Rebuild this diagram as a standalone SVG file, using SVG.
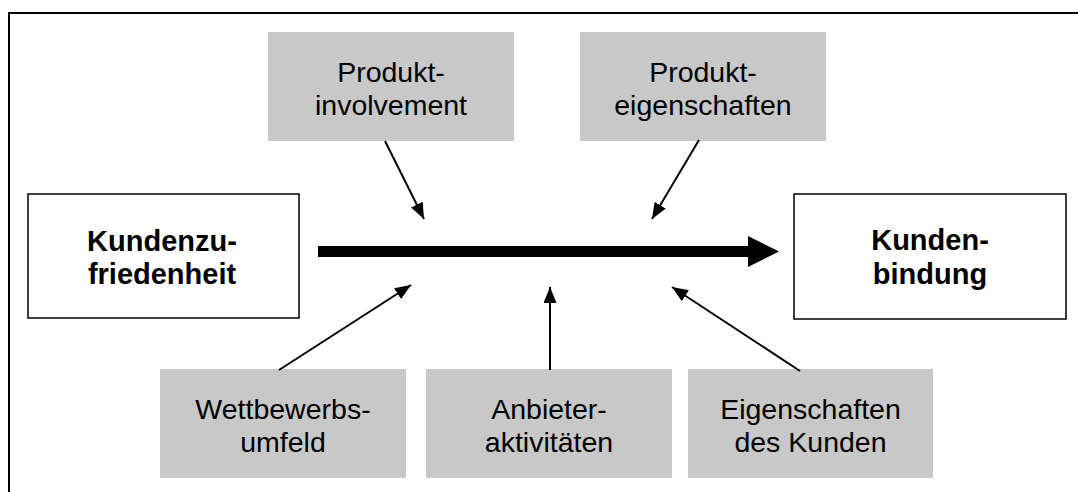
<svg xmlns="http://www.w3.org/2000/svg" width="1078" height="492" viewBox="0 0 1078 492">
  <defs>
    <style>
      .frame { fill: none; stroke: #000; stroke-width: 2; }
      .white { fill: #fff; stroke: #000; stroke-width: 1.5; }
      .gray { fill: #c8c8c8; stroke: none; }
      .t { font-family: "Liberation Sans", Arial, sans-serif; font-size: 28.5px; fill: #000; text-anchor: middle; }
      .b { font-family: "Liberation Sans", Arial, sans-serif; font-size: 29px; font-weight: bold; fill: #000; text-anchor: middle; }
      .conn { stroke: #000; stroke-width: 2; fill: none; marker-end: url(#ah); }
    </style>
    <marker id="ah" markerUnits="userSpaceOnUse" markerWidth="17" markerHeight="13" refX="16" refY="6.5" orient="auto">
      <path d="M0,0 L16,6.5 L0,13 z" fill="#000"/>
    </marker>
  </defs>
  <rect class="frame" x="9" y="13" width="1100" height="520"/>

  <g id="kundenzufriedenheit">
    <rect class="white" x="28" y="194" width="271" height="124"/>
    <text class="b" x="162" y="250.5">Kundenzu-</text>
    <text class="b" x="162" y="284">friedenheit</text>
  </g>
  <g id="kundenbindung">
    <rect class="white" x="794" y="194" width="272" height="125"/>
    <text class="b" x="930" y="250">Kunden-</text>
    <text class="b" x="930" y="283.5">bindung</text>
  </g>
  <g id="produktinvolvement">
    <rect class="gray" x="268" y="32" width="246" height="109"/>
    <text class="t" x="391" y="82">Produkt-</text>
    <text class="t" x="391" y="115">involvement</text>
  </g>
  <g id="produkteigenschaften">
    <rect class="gray" x="580" y="32" width="246" height="109"/>
    <text class="t" x="703" y="82">Produkt-</text>
    <text class="t" x="703" y="115">eigenschaften</text>
  </g>
  <g id="wettbewerbsumfeld">
    <rect class="gray" x="160" y="369" width="246" height="109"/>
    <text class="t" x="283" y="419">Wettbewerbs-</text>
    <text class="t" x="283" y="452">umfeld</text>
  </g>
  <g id="anbieteraktivitaeten">
    <rect class="gray" x="426" y="369" width="246" height="109"/>
    <text class="t" x="549" y="419">Anbieter-</text>
    <text class="t" x="549" y="452">aktivitäten</text>
  </g>
  <g id="eigenschaftenkunden">
    <rect class="gray" x="688" y="369" width="245" height="109"/>
    <text class="t" x="810.5" y="419">Eigenschaften</text>
    <text class="t" x="810.5" y="452">des Kunden</text>
  </g>

  <g id="connectors">
    <rect x="318" y="246" width="431" height="11" fill="#000"/>
    <polygon points="748,236 779,251.5 748,267" fill="#000"/>
    <line class="conn" x1="385" y1="141" x2="424" y2="219"/>
    <line class="conn" x1="699" y1="140" x2="652" y2="219"/>
    <line class="conn" x1="279" y1="370" x2="411" y2="285"/>
    <line class="conn" x1="550" y1="370" x2="550" y2="287"/>
    <line class="conn" x1="800" y1="371" x2="672" y2="287"/>
  </g>
</svg>
